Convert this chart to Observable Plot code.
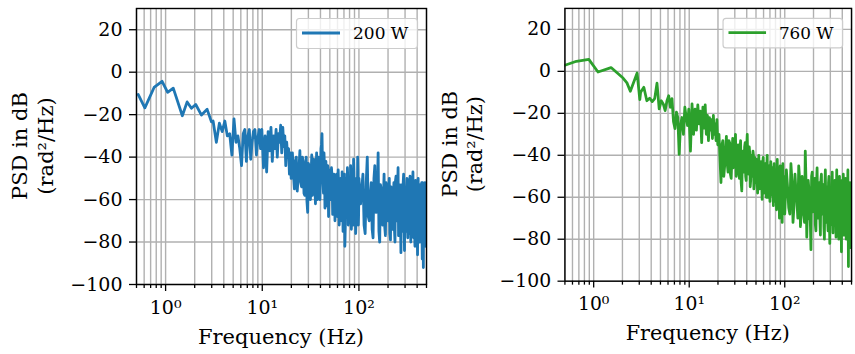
<!DOCTYPE html>
<html><head><meta charset="utf-8">
<script src="https://cdn.jsdelivr.net/npm/d3@7"></script>
<script src="https://cdn.jsdelivr.net/npm/@observablehq/plot@0.6"></script>
<style>
html,body{margin:0;padding:0;background:#fff;overflow:hidden;width:855px;height:354px}
#wrap{position:relative;width:855px;height:354px;overflow:hidden}
.panel{position:absolute;top:0}
</style></head><body><div id="wrap"></div>
<script>
// ---------- data ----------
const seriesNames = ["200 W", "760 W"];
const seriesColors = ["#1f77b4", "#2ca02c"];

// low-frequency vertices (Hz, dB)
const lowFreq200 = [0.52, 0.61, 0.76, 0.92, 1.05, 1.2, 1.49, 1.67, 1.85, 2.05, 2.35, 2.69, 2.98];
const lowPsd200  = [-10.5, -16.8, -7.2, -4.3, -9.5, -7.5, -20.5, -14, -17, -15.2, -20.2, -17.5, -23.4];
const lowFreq760 = [0.5, 0.66, 0.89, 1.11, 1.52, 2.03, 2.23, 2.42, 2.85, 3.04];
const lowPsd760  = [2.9, 4.8, 5.7, -0.3, 1.8, -3.2, -5.5, -9.5, -0.8, -13.5];

// frequency grid A of the noisy part (Hz)
const hiFreq = [
  3.1,3.35,3.6,3.85,4.1,4.35,4.6,4.85,5.1,5.35,5.6,5.85,6.1,6.35,6.6,6.85,7.1,7.35,7.6,7.85,8.1,8.4,8.7,9.0,9.3,9.6,9.9,
  10.3,10.7,11.1,11.5,11.9,12.3,12.7,13.1,13.5,13.9,14.3,14.7,15.1,15.5,15.9,16.3,16.7,17.1,17.5,17.9,18.3,18.7,19.1,19.5,19.9,
  20.5,21.5,22.5,23.5,24.5,25.5,26.5,27.5,28.5,29.5,30.5,31.5,32.5,33.5,34.5,35.5,36.5,37.5,38.5,39.5,40.5,41.5,42.5,43.5,44.5,45.5,46.5,47.5,48.5,49.5,
  50.5,52,53.5,55,56.5,58,59.5,61,62.5,64,65.5,67,68.5,70,71.5,73,74.5,76,77.5,79,80.5,82,83.5,85,86.5,88,89.5,91,92.5,94,95.5,97,98.5,100,
  104,110,116,122,128,134,140,146,152,158,164,170,176,182,188,194,200,206,212,218,224,230,236,242,248,254,260,266,272,278,284,290,296,302,308,314,320,326,332,338,344,350,356,362,368,374,380,386,392,398,404,410,416,422,428,434,440,446,452,458,464,470,476,482,488,494,500
];
const hiPsd200 = [
  -23,-33,-24,-28,-23,-30,-29,-39,-22,-33,-30,-36,-44,-29,-27,-42,-30,-27,-41,-33,-28,-27,-39,-31,-27,-36,-27,
  -45,-30,-47,-28,-37,-26,-42,-30,-36,-27,-40,-29,-33,-25,-38,-26,-35,-30,-44,-33,-40,-36,-48,-38,-50,
  -38,-55,-40,-50,-37,-54,-42,-58,-40,-66,-44,-60,-39,-56,-42,-62,-38,-54,-44,-60,-36,-29,-52,-38,-64,-42,-58,-44,-68,-46,
  -55,-45,-67,-48,-70,-50,-64,-46,-72,-52,-62,-47,-75,-55,-82,-50,-68,-45,-72,-53,-66,-44,-74,-52,-70,-41,-63,-50,-76,-55,-68,-40,-72,-50,
  -62,-48,-76,-40,-70,-52,-78,-44,-66,-38,-80,-55,-72,-48,-77,-54,-70,-50,-79,-56,-74,-52,-80,-49,-70,-45,-76,-55,-85,-53,-72,-48,-84,-58,-75,-50,-78,-56,-70,-49,-80,-52,-74,-47,-78,-55,-82,-51,-70,-57,-86,-50,-76,-55,-80,-53,-72,-52,-88,-60,-92,-55,-78,-52,-82,-56,-70
];
const hiPsd760 = [
  -10,-7.6,-14,-12.8,-14.4,-13,-5.6,-17.9,-14,-15.5,-18.7,-14,-11.6,-17.1,-13,-24,-27.3,-19.4,-22,-39.6,-25.8,-22,-30,-17.1,-22,-25.8,-18,
  -38,-15.5,-30,-18,-28,-16,-25,-19,-34,-17,-27,-16,-30,-21,-33,-22,-28,-23,-32,-21,-30,-25,-33,-23,-35,
  -30,-53,-33,-45,-31,-48,-34,-51,-32,-44,-30,-47,-35,-51,-33,-57,-38,-48,-34,-52,-30,-45,-36,-55,-40,-50,-38,-56,-41,-53,
  -42,-58,-40,-55,-43,-61,-41,-57,-44,-60,-40,-56,-45,-62,-43,-58,-46,-64,-44,-60,-47,-66,-42,-63,-48,-70,-45,-62,-49,-72,-44,-66,-50,-68,
  -47,-65,-44,-72,-49,-62,-45,-74,-50,-68,-38,-79,-52,-70,-85,-48,-66,-51,-76,-46,-70,-53,-78,-49,-67,-54,-80,-47,-72,-55,-76,-50,-82,-56,-70,-48,-77,-58,-73,-52,-79,-47,-68,-57,-80,-50,-74,-55,-86,-52,-71,-49,-78,-57,-75,-51,-80,-54,-72,-47,-93,-56,-76,-53,-84,-58,-74
];

// frequency grid B (in-between bins of the dense part, Hz)
const hiFreqB = [
  21,22,23,24,25,26,27,28,29,30,31,32,33,34,35,36,37,38,39,40,41,42,43,44,45,46,47,48,49,
  51.25,52.75,54.25,55.75,57.25,58.75,60.25,61.75,63.25,64.75,66.25,67.75,69.25,70.75,72.25,73.75,75.25,76.75,78.25,79.75,81.25,82.75,84.25,85.75,87.25,88.75,90.25,91.75,93.25,94.75,96.25,97.75,99.25,
  107,113,119,125,131,137,143,149,155,161,167,173,179,185,191,197,203,209,215,221,227,233,239,245,251,257,263,269,275,281,287,293,299,305,311,317,323,329,335,341,347,353,359,365,371,377,383,389,395,401,407,413,419,425,431,437,443,449,455,461,467,473,479,485,491,497
];
const hiPsd200B = [
  -48,-42,-56,-45,-52,-40,-57,-47,-61,-43,-55,-48,-58,-41,-52,-46,-60,-40,-56,-47,-34,-45,-57,-44,-60,-48,-63,-45,-55,
  -60,-50,-66,-52,-58,-48,-68,-55,-63,-50,-70,-57,-64,-48,-73,-56,-62,-50,-69,-54,-71,-49,-64,-58,-72,-47,-66,-55,-70,-52,-62,-46,-67,
  -55,-72,-52,-68,-58,-74,-50,-66,-56,-75,-53,-70,-60,-73,-52,-67,-57,-76,-54,-69,-59,-74,-51,-68,-56,-77,-53,-70,-58,-75,-52,-66,-57,-73,-54,-71,-59,-76,-51,-68,-56,-74,-53,-70,-58,-77,-52,-67,-60,-75,-54,-72,-57,-78,-53,-69,-56,-74,-52,-71,-58,-76,-54,-70,-57,-73
];
const hiPsd760B = [
  -42,-35,-50,-38,-44,-33,-49,-40,-46,-36,-50,-42,-47,-37,-53,-41,-45,-36,-50,-35,-43,-49,-39,-52,-44,-47,-40,-54,-45,
  -50,-45,-56,-47,-52,-44,-58,-49,-54,-46,-60,-50,-55,-47,-59,-51,-56,-48,-62,-52,-57,-49,-61,-53,-58,-50,-64,-54,-59,-51,-63,-55,-60,
  -55,-68,-52,-64,-57,-70,-51,-66,-58,-72,-53,-65,-56,-71,-50,-67,-59,-73,-54,-66,-57,-70,-52,-68,-60,-74,-55,-65,-58,-71,-53,-69,-61,-73,-54,-67,-57,-72,-52,-68,-59,-75,-55,-66,-60,-72,-53,-69,-58,-74,-56,-67,-61,-73,-54,-70,-59,-76,-55,-68,-62,-72,-57,-71,-60,-75
];

// axes
const xMajorTicks = [1, 10, 100];
const xMajorLabels = ["10\u2070", "10\u00b9", "10\u00b2"];
const xMinorTicks = [0.5,0.6,0.7,0.8,0.9,2,3,4,5,6,7,8,9,20,30,40,50,60,70,80,90,200,300,400,500];
const yTicks = [-100, -80, -60, -40, -20, 0, 20];
const xLabel = "Frequency (Hz)";
const yLabelLines = ["PSD in dB", "(rad\u00b2/Hz)"];

// ---------- drawing ----------
const FONT = "'DejaVu Serif', serif";
const fmtY = d => (d < 0 ? "\u2212" : "") + Math.abs(d);

function makePanel(freqs, psd, name, color, leftPx) {
  const data = freqs.map((f, i) => ({f, v: psd[i]})).sort((a, b) => a.f - b.f);
  const svg = Plot.plot({
    width: 430, height: 354,
    marginLeft: 136, marginRight: 4, marginTop: 8, marginBottom: 70,
    x: {type: "log", domain: [0.5, 500]},
    y: {domain: [-100, 30]},
    style: {fontFamily: FONT, fontSize: "19px", color: "#000", background: "transparent", overflow: "visible"},
    marks: [
      Plot.gridX(xMinorTicks.concat(xMajorTicks), {stroke: "#b0b0b0", strokeOpacity: 1, strokeWidth: 1.4}),
      Plot.gridY(yTicks, {stroke: "#b0b0b0", strokeOpacity: 1, strokeWidth: 1.4}),
      Plot.line(data, {x: "f", y: "v", stroke: color, strokeWidth: 2.8, clip: true}),
      Plot.axisX(xMinorTicks, {tickSize: 4, tickFormat: () => "", label: null, strokeWidth: 1.3}),
      Plot.axisX(xMajorTicks, {tickSize: 7, tickPadding: 9, tickFormat: d => xMajorLabels[xMajorTicks.indexOf(d)], label: null, strokeWidth: 1.3}),
      Plot.axisY(yTicks, {tickSize: 7, tickPadding: 7, tickFormat: fmtY, label: null, strokeWidth: 1.3}),
      Plot.frame({stroke: "#000", strokeWidth: 1.4})
    ]
  });
  const s = d3.select(svg);
  // axis labels
  s.append("text").attr("x", 281).attr("y", 344).attr("text-anchor", "middle")
    .style("font-family", FONT).style("font-size", "21px").attr("fill", "#000").text(xLabel);
  const ylx = [27, 53];
  yLabelLines.forEach((t, i) => {
    s.append("text").attr("transform", `translate(${ylx[i]},146) rotate(-90)`).attr("text-anchor", "middle")
      .style("font-family", FONT).style("font-size", "21px").attr("fill", "#000").text(t);
  });
  // legend
  const g = s.append("g");
  g.append("rect").attr("x", 296.5).attr("y", 18.5).attr("width", 121).attr("height", 30).attr("rx", 3)
    .attr("fill", "#fff").attr("fill-opacity", 0.8).attr("stroke", "#cccccc").attr("stroke-width", 1.2);
  g.append("line").attr("x1", 302).attr("x2", 340).attr("y1", 33).attr("y2", 33)
    .attr("stroke", color).attr("stroke-width", 2.8);
  g.append("text").attr("x", 353).attr("y", 39).attr("text-anchor", "start")
    .style("font-family", FONT).style("font-size", "17px").attr("fill", "#000").text(name);
  const div = document.createElement("div");
  div.className = "panel";
  div.style.left = leftPx + "px";
  div.appendChild(svg);
  document.getElementById("wrap").appendChild(div);
}

makePanel(lowFreq200.concat(hiFreq, hiFreqB), lowPsd200.concat(hiPsd200, hiPsd200B), seriesNames[0], seriesColors[0], 0);
makePanel(lowFreq760.concat(hiFreq, hiFreqB), lowPsd760.concat(hiPsd760, hiPsd760B), seriesNames[1], seriesColors[1], 430);
</script></body></html>
